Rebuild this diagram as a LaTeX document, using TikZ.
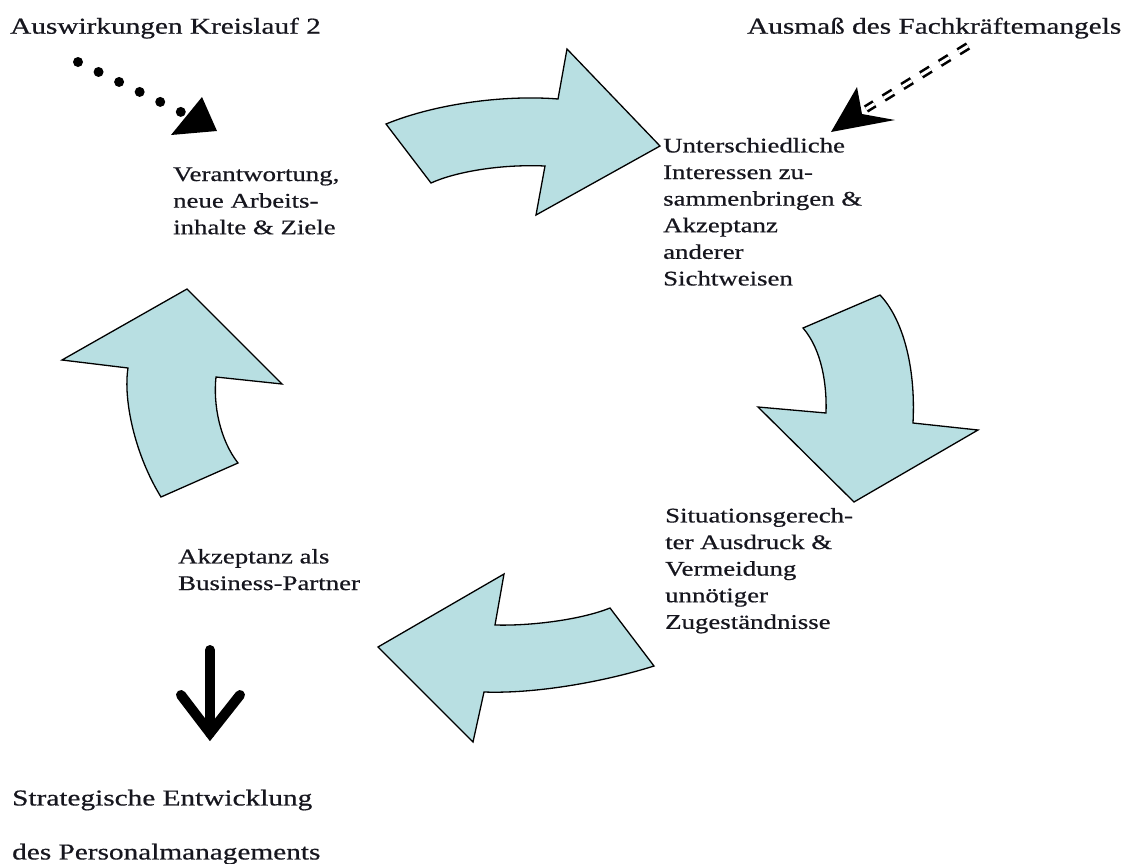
\documentclass[tikz,border=0pt]{standalone}
\usepackage{fontspec}
\setmainfont{Liberation Serif}[FakeStretch=1.29,FakeBold=0.6]
\definecolor{cyclefill}{RGB}{184,223,226}
\definecolor{textdark}{RGB}{22,22,30}
\begin{document}
\begin{tikzpicture}[x=1pt,y=-1pt,
  cyclearrow/.style={fill=cyclefill, draw=black, line width=1.3pt, line join=miter},
  headline/.style={anchor=north west, inner sep=0pt, text=textdark,
    font=\fontsize{22.7}{26.6}\selectfont},
  stagelabel/.style={anchor=north west, inner sep=0pt, align=left, text=textdark,
    font=\fontsize{20.8}{26.6}\selectfont},
  footlabel/.style={anchor=north west, inner sep=0pt, align=left, text=textdark,
    font=\fontsize{22.7}{54}\selectfont},
  dotline/.style={line width=10pt, line cap=round, dash pattern=on 0pt off 22.85pt},
  twinline/.style={double, double distance=3pt, line width=2.6pt, dash pattern=on 11pt off 11pt},
  resultline/.style={line width=10pt, line cap=round, line join=miter}
]
\useasboundingbox (0,0) rectangle (1125,863);

% labels
\node[headline] (kreis) at (10,17.5) {Auswirkungen Kreislauf 2};
\node[headline] (mangel) at (747,17.5) {Ausmaß des Fachkräftemangels};
\node[stagelabel] (verant) at (173,167.2) {Verantwortung,\\neue Arbeits-\\inhalte \& Ziele};
\node[stagelabel] (inter) at (663,137.8) {Unterschiedliche\\Interessen zu-\\sammenbringen \&\\Akzeptanz\\anderer\\Sichtweisen};
\node[stagelabel] (situ) at (665,507.8) {Situationsgerech-\\ter Ausdruck \&\\Vermeidung\\unnötiger\\Zugeständnisse};
\node[stagelabel] (partner) at (178,548.8) {Akzeptanz als\\Business-Partner};
\node[footlabel] (strat) at (12,789.5) {Strategische Entwicklung\\des Personalmanagements};

% cycle of curved block arrows
\path[cyclearrow] (386,124) -- (431,183) .. controls (455,172) and (500,164) .. (545,166)
  -- (536,215) -- (660,146) -- (567,49) -- (558,99)
  .. controls (510,95) and (440,102) .. (386,124) -- cycle;
\path[cyclearrow] (803,328) -- (880,295) .. controls (902,318) and (916,365) .. (913,423)
  -- (978,430) -- (854,502) -- (758,407) -- (826,413)
  .. controls (827,385) and (822,350) .. (803,328) -- cycle;
\path[cyclearrow] (610,608) -- (654,666) .. controls (610,680) and (540,694) .. (484,692)
  -- (473,742) -- (378,647) -- (504,574) -- (495,625)
  .. controls (530,626) and (580,620) .. (610,608) -- cycle;
\path[cyclearrow] (161,497) -- (238,463) .. controls (220,440) and (213,405) .. (216,377)
  -- (282,384) -- (187,289) -- (62,360) -- (128,368)
  .. controls (123,400) and (135,455) .. (161,497) -- cycle;

% dotted influence arrow
\coordinate (dotstart) at (78,62);
\coordinate (dotend) at (181,112);
\draw[dotline] (dotstart) -- (dotend);
\fill (202,97) -- (217,131) -- (171,135) -- cycle;

% double dashed influence arrow
\coordinate (dashstart) at (968,46);
\coordinate (dashend) at (866,109);
\draw[twinline] (dashstart) -- (dashend);
\fill (831,132) -- (857,87) -- (862,114) -- (895,120) -- cycle;

% result arrow
\coordinate (restop) at (210,650);
\coordinate (restip) at (210,733);
\coordinate (resleft) at (181,695);
\coordinate (resright) at (240,695);
\draw[resultline] (restop) -- (restip);
\draw[resultline] (resleft) -- (restip) -- (resright);
\end{tikzpicture}
\end{document}
